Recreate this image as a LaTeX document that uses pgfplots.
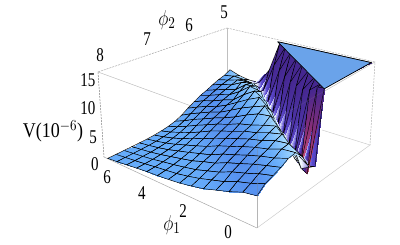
\documentclass[border=0pt]{standalone}
\usepackage{fontspec}
\setmainfont{Liberation Serif}
\usepackage{pgfplots}
\pgfplotsset{compat=1.18}
\pgfplotsset{
 /pgf/declare function={
  dd(\a,\b,\c)=1+.2388*\a/6+.2753*(8-\b)/3-.08*\c/15;
  px(\a,\b,\c)=(257-128.2*\a/6+214.9*(8-\b)/3-20.6*\c/15)/dd(\a,\b,\c);
  py(\a,\b,\c)=-(228-33.5*\a/6-43.1*(8-\b)/3-108.4*\c/15)/dd(\a,\b,\c);
  ss(\a,\b)=(8-\b)/3-.26-.1367*\a;
  cs(\s)=ifthenelse(\s<-.5,1,ifthenelse(\s<-.25,1-.7*(\s+.5)/.25,ifthenelse(\s<-.05,.3+1*(\s+.25)/.2,1.3+.5*(\s+.05)/.05)));
  cw(\a)=max(2.4,min(3.1,3.5-.25*\a));
  xx(\a,\s)=max(\s,0)/(.19-.0167*\a);
  cc(\a,\s)=ifthenelse(\s<0,cs(\s),ifthenelse(xx(\a,\s)<.7,1.8+(cw(\a)-1.8)*xx(\a,\s)/.7,ifthenelse(xx(\a,\s)<1,cw(\a)+(4.4-cw(\a))*(xx(\a,\s)-.7)/.3,min(5,4.4+.6*(\s-.19+.0167*\a)/.02))));
 },
 /pgfplots/table/proj/.style={x expr={px(\thisrow{p1},\thisrow{p2},\thisrow{V})},y expr={py(\thisrow{p1},\thisrow{p2},\thisrow{V})},z expr={-dd(\thisrow{p1},\thisrow{p2},\thisrow{V})},row sep=\\},
}
\newcommand{\tl}[1]{\scalebox{1}[1.3]{#1}}
\begin{document}
\begin{tikzpicture}
\path[use as bounding box] (0,0) rectangle (400pt,245pt);
\begin{axis}[at={(0,0)},anchor=south west,scale only axis,width=400pt,height=245pt,hide axis,
 xmin=0,xmax=400,ymin=-245,ymax=0,zmin=-3,zmax=0,view={0}{90},clip=false,
 point meta min=0,point meta max=7,
 colormap={surfmap}{rgb255=(74,124,232) rgb255=(102,172,250) rgb255=(168,220,255) rgb255=(245,252,255) rgb255=(90,74,208) rgb255=(69,39,143) rgb255=(138,47,120) rgb255=(232,96,122)}]
% box, back part
\addplot3[gray!70,line width=.5pt,dash pattern=on 2pt off 1pt] coordinates {(98,-72,-3) (227,-28,-3)};
\addplot3[gray!60,line width=.5pt,dash pattern=on 2pt off 1pt] coordinates {(227,-28,-3) (375,-62,-3) (370,-145,-3)};
\addplot3[gray,line width=.5pt,dash pattern=on 2pt off 1pt] coordinates {(98,-72,-3) (104,-157,-3)};
\addplot3[gray!70,line width=.5pt] coordinates {(104,-157,-3) (257,-228,-3)};
\addplot3[gray!40,line width=.5pt] coordinates {(257,-228,-3) (370,-145,-3) (322,-130,-3)};
\addplot3[gray!30,line width=.5pt] coordinates {(98,-72,-3) (257,-130,-3)};
\addplot3[gray!50,line width=.5pt] coordinates {(227,-28,-3) (227,-100,-3)};
\addplot3[gray!30,line width=.5pt] coordinates {(375,-62,-3) (257,-130,-3)};
\addplot3[gray!40,line width=.5pt] coordinates {(257,-228,-3) (257,-130,-3)};
% surface
\addplot3[surf,shader=faceted interp,faceted color=black,line width=.45pt,z buffer=sort,mesh/rows=19,
 point meta={ifthenelse(\thisrow{p1}>.2 && \thisrow{p1}<1 && ss(\thisrow{p1},\thisrow{p2})>.13 && ss(\thisrow{p1},\thisrow{p2})<.2,6.8,cc(\thisrow{p1},ss(\thisrow{p1},\thisrow{p2})))}]
 table[proj] {p1 p2 V\\
0 8 5.2\\.448 8 4.82\\.895 8 3.96\\1.343 8 3.25\\1.791 8 2.54\\2.238 8 2.06\\2.686 8 1.65\\3.134 8 1.38\\3.582 8 1.17\\4.029 8 1.02\\4.477 8 .77\\4.925 8 .53\\5.372 8 .29\\5.82 8 .07\\
0 7.833 6.26\\.448 7.833 5.39\\.895 7.833 4.76\\1.343 7.833 3.84\\1.791 7.833 3.2\\2.238 7.833 2.55\\2.686 7.833 2.04\\3.134 7.833 1.63\\3.582 7.833 1.35\\4.029 7.833 1.1\\4.477 7.833 .81\\4.925 7.833 .56\\5.372 7.833 .32\\5.82 7.833 .09\\
0 7.667 6.72\\.448 7.667 6.13\\.895 7.667 5.33\\1.343 7.667 4.66\\1.791 7.667 3.73\\2.238 7.667 3.08\\2.686 7.667 2.42\\3.134 7.667 1.98\\3.582 7.667 1.59\\4.029 7.667 1.26\\4.477 7.667 .88\\4.925 7.667 .61\\5.372 7.667 .36\\5.82 7.667 .12\\
0 7.5 7.22\\.448 7.5 6.66\\.895 7.5 6.02\\1.343 7.5 5.27\\1.791 7.5 4.57\\2.238 7.5 3.64\\2.686 7.5 3.07\\3.134 7.5 2.37\\3.582 7.5 1.92\\4.029 7.5 1.48\\4.477 7.5 1.04\\4.925 7.5 .67\\5.372 7.5 .4\\5.82 7.5 .15\\
0 7.333 7.87\\.448 7.333 7.11\\.895 7.333 6.59\\1.343 7.333 5.92\\1.791 7.333 5.17\\2.238 7.333 4.48\\2.686 7.333 3.53\\3.134 7.333 2.94\\3.582 7.333 2.32\\4.029 7.333 1.8\\4.477 7.333 1.24\\4.925 7.333 .81\\5.372 7.333 .46\\5.82 7.333 .19\\
0 7.167 8.06\\.448 7.167 7.84\\.895 7.167 7.04\\1.343 7.167 6.53\\1.791 7.167 5.86\\2.238 7.167 5.11\\2.686 7.167 4.41\\3.134 7.167 3.5\\3.582 7.167 2.83\\4.029 7.167 2.2\\4.477 7.167 1.54\\4.925 7.167 1.01\\5.372 7.167 .59\\5.82 7.167 .24\\
0 7 6.63\\.448 7 8.02\\.895 7 7.73\\1.343 7 6.97\\1.791 7 6.46\\2.238 7 5.76\\2.686 7 5.05\\3.134 7 4.31\\3.582 7 3.44\\4.029 7 2.74\\4.477 7 1.94\\4.925 7 1.29\\5.372 7 .78\\5.82 7 .36\\
0 6.833 4.3\\.448 6.833 5.87\\.895 6.833 8.12\\1.343 6.833 7.62\\1.791 6.833 6.87\\2.238 6.833 6.4\\2.686 6.833 5.61\\3.134 6.833 4.95\\3.582 6.833 4.22\\4.029 6.833 3.28\\4.477 6.833 2.43\\4.925 6.833 1.71\\5.372 6.833 1.04\\5.82 6.833 .54\\
0 6.667 3.5\\.448 6.667 2.26\\.895 6.667 5.92\\1.343 6.667 8.1\\1.791 6.667 7.51\\2.238 6.667 6.84\\2.686 6.667 6.34\\3.134 6.667 5.51\\3.582 6.667 4.86\\4.029 6.667 4.0\\4.477 6.667 3.18\\4.925 6.667 2.27\\5.372 6.667 1.44\\5.82 6.667 .79\\
0 6.53 15.7\\.448 6.5 .5\\.895 6.5 2.41\\1.343 6.5 6.27\\1.791 6.5 8.5\\2.238 6.5 8.2\\2.686 6.5 7.3\\3.134 6.5 6.27\\3.582 6.5 5.41\\4.029 6.5 4.66\\4.477 6.5 3.79\\4.925 6.5 2.98\\5.372 6.5 2.03\\5.82 6.5 1.19\\
.21 6.333 15\\.448 6.333 14.7\\.895 6.333 .5\\1.343 6.333 2.48\\1.791 6.333 6.41\\2.238 6.333 9\\2.686 6.333 8.2\\3.134 6.333 7.3\\3.582 6.333 6.21\\4.029 6.333 5.16\\4.477 6.333 4.5\\4.925 6.333 3.66\\5.372 6.333 2.82\\5.82 6.333 1.8\\
.21 6.167 15\\.448 6.167 15\\.895 6.167 13.1\\1.343 6.167 .6\\1.791 6.167 2.62\\2.238 6.167 7.5\\2.686 6.167 9.3\\3.134 6.167 8.3\\3.582 6.167 7.1\\4.029 6.167 5.93\\4.477 6.167 4.99\\4.925 6.167 4.37\\5.372 6.167 3.54\\5.82 6.167 2.66\\
.21 6 15\\.448 6 15\\.895 6 15\\1.343 6 12\\1.791 6 .9\\2.238 6 3.08\\2.686 6 8\\3.134 6 9.3\\3.582 6 8\\4.029 6 6.35\\4.477 6 5.7\\4.925 6 4.88\\5.372 6 4.27\\5.82 6 3.41\\
.21 5.833 15\\.448 5.833 15\\.895 5.833 15\\1.343 5.833 15\\1.791 5.833 11.45\\2.238 5.833 1.6\\2.686 5.833 3.42\\3.134 5.833 8.6\\3.582 5.833 9\\4.029 5.833 7.4\\4.477 5.833 6.15\\4.925 5.833 5.55\\5.372 5.833 4.78\\5.82 5.833 4.14\\
.21 5.667 15\\.448 5.667 15\\.895 5.667 15\\1.343 5.667 15\\1.791 5.667 15\\2.238 5.667 11\\2.686 5.667 2.3\\3.134 5.667 4.2\\3.582 5.667 8.5\\4.029 5.667 8.2\\4.477 5.667 6.6\\4.925 5.667 6.03\\5.372 5.667 5.37\\5.82 5.667 4.64\\
.21 5.5 15\\.448 5.5 15\\.895 5.5 15\\1.343 5.5 15\\1.791 5.5 15\\2.238 5.5 15\\2.686 5.5 10.9\\3.134 5.5 3.4\\3.582 5.5 4.96\\4.029 5.5 8\\4.477 5.5 7.5\\4.925 5.5 6.44\\5.372 5.5 5.91\\5.82 5.5 5.26\\
.21 5.333 15\\.448 5.333 15\\.895 5.333 15\\1.343 5.333 15\\1.791 5.333 15\\2.238 5.333 15\\2.686 5.333 15\\3.134 5.333 11\\3.582 5.333 4.4\\4.029 5.333 5.64\\4.477 5.333 7.2\\4.925 5.333 6.9\\5.372 5.333 6.31\\5.82 5.333 5.8\\
.21 5.167 15\\.448 5.167 15\\.895 5.167 15\\1.343 5.167 15\\1.791 5.167 15\\2.238 5.167 15\\2.686 5.167 15\\3.134 5.167 15\\3.582 5.167 11\\4.029 5.167 5.4\\4.477 5.167 6.1\\4.925 5.167 6.5\\5.372 5.167 6.6\\5.82 5.167 6.2\\
.21 5 15\\.448 5 15\\.895 5 15\\1.343 5 15\\1.791 5 15\\2.238 5 15\\2.686 5 15\\3.134 5 15\\3.582 5 15\\4.029 5 9.0\\4.477 5 5.9\\4.925 5 5.85\\5.372 5 6.2\\5.82 5 6.9\\
};
% clipped top
\addplot3[fill={rgb,255:red,106;green,163;blue,234},draw=black,line width=.7pt] table[proj] {p1 p2 V\\3.69 5 15\\0 6.53 15.7\\.21 5 15\\3.69 5 15\\};
% box edges seen faintly through the surface
\addplot3[gray,opacity=.3,line width=.4pt] coordinates {(98,-72,0) (257,-130,0)};
\addplot3[gray,opacity=.3,line width=.4pt] coordinates {(257,-228,0) (257,-130,0)};
\addplot3[gray,opacity=.3,line width=.4pt] coordinates {(375,-62,0) (257,-130,0)};
\end{axis}
\begin{scope}[every node/.style={inner sep=0pt,font=\fontsize{15}{15}\selectfont}]
\node at (88pt,165pt) {\tl{15}};
\node at (88pt,137pt) {\tl{10}};
\node at (93pt,108pt) {\tl{5}};
\node at (95pt,81pt) {\tl{0}};
\node at (53pt,114pt) {\scalebox{1.2}[1.4]{V(10$^{-6}$)}};
\node at (107pt,68pt) {\tl{6}};
\node at (142pt,52pt) {\tl{4}};
\node at (183pt,34pt) {\tl{2}};
\node at (228pt,13pt) {\tl{0}};
\node at (172pt,20pt) {\scalebox{1.2}[1.5]{$\phi_1$}};
\node at (100pt,190pt) {\tl{8}};
\node at (147pt,206pt) {\tl{7}};
\node at (167pt,225pt) {\scalebox{1.2}[1.5]{$\phi_2$}};
\node at (189pt,220pt) {\tl{6}};
\node at (224pt,233pt) {\tl{5}};
\end{scope}
\end{tikzpicture}
\end{document}
